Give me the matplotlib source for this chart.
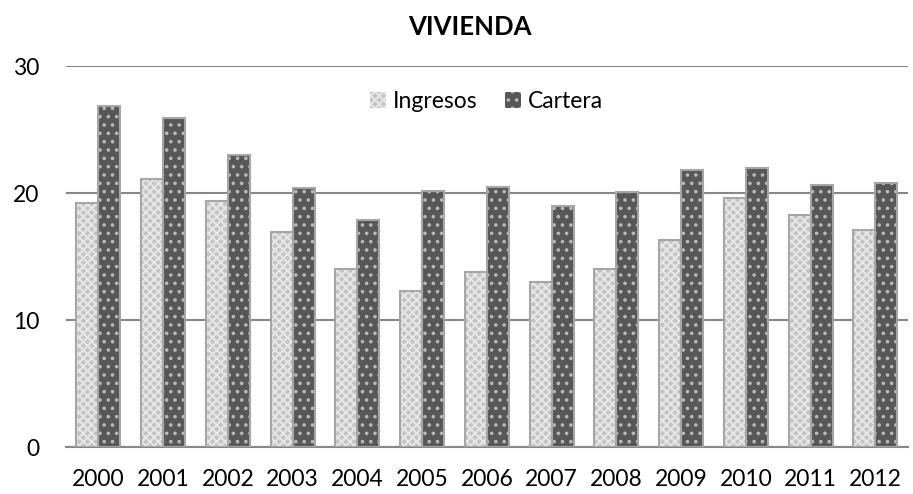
import matplotlib
matplotlib.use("Agg")
import matplotlib.pyplot as plt
import numpy as np

plt.rcParams['font.family'] = ['Lato', 'DejaVu Sans']
plt.rcParams['hatch.linewidth'] = 1.4

years = ['2000', '2001', '2002', '2003', '2004', '2005', '2006',
         '2007', '2008', '2009', '2010', '2011', '2012']
ingresos = [19.2, 21.1, 19.4, 16.9, 14.0, 12.3, 13.8, 13.0, 14.0, 16.3, 19.6, 18.3, 17.1]
cartera = [26.9, 25.9, 23.0, 20.4, 17.9, 20.2, 20.5, 19.0, 20.1, 21.8, 22.0, 20.6, 20.8]
yticks = [0, 10, 20, 30]

fig = plt.figure(figsize=(9.13, 4.94), dpi=100)
ax = fig.add_axes([0.0723, 0.0951, 0.922, 0.771])

x = np.arange(len(years))
w = 0.34

# Ingresos: light grey checker-like fill
ax.bar(x - w/2, ingresos, w, color='#c4c4c4', edgecolor='#e8e8e8',
       hatch='xxxx', linewidth=0, zorder=3, label='Ingresos')
ax.bar(x - w/2, ingresos, w, fill=False, edgecolor='#a6a6a6', linewidth=1.5, zorder=4)
# Cartera: dark grey with light dots
ax.bar(x + w/2, cartera, w, color='#575757', edgecolor='#b8b8b8',
       hatch='..', linewidth=0, zorder=3, label='Cartera')
ax.bar(x + w/2, cartera, w, fill=False, edgecolor='#a6a6a6', linewidth=1.5, zorder=4)

ax.set_xlim(-0.5, len(years) - 0.5)
ax.set_ylim(0, 30)
ax.set_yticks(yticks)
ax.set_yticklabels([str(t) for t in yticks], fontsize=16.5)
ax.set_xticks(x)
ax.set_xticklabels(years, fontsize=16.5)
ax.tick_params(axis='y', length=0, pad=19)
ax.tick_params(axis='x', length=0, pad=16)

ax.grid(axis='y', color='#878787', linewidth=1.5, zorder=0)
ax.set_axisbelow(True)
for s in ['top', 'right', 'left']:
    ax.spines[s].set_visible(False)
ax.spines['bottom'].set_color('#878787')
ax.spines['bottom'].set_linewidth(1.5)

fig.text(0.515, 0.945, 'VIVIENDA', ha='center', va='center', fontsize=18.5, fontweight='bold')

leg = ax.legend(loc='upper center', bbox_to_anchor=(0.5, 0.99), ncol=2, frameon=False,
                fontsize=16.5, handlelength=0.7, handleheight=0.7, handletextpad=0.3,
                columnspacing=1.2)

fig.savefig('out.png', dpi=100)
